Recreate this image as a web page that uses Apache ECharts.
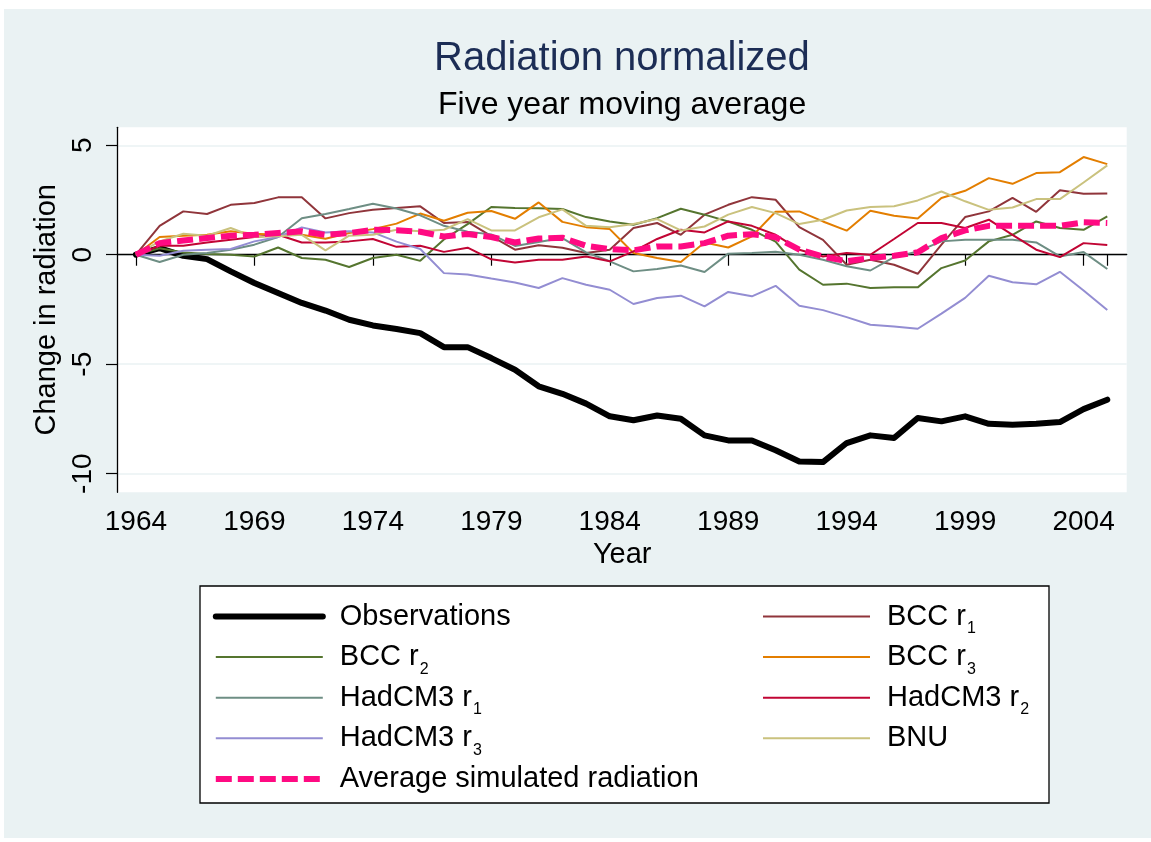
<!DOCTYPE html>
<html>
<head>
<meta charset="utf-8">
<title>Radiation normalized</title>
<script src="https://cdn.jsdelivr.net/npm/echarts@6/dist/echarts.min.js"></script>
<style>
  html, body { margin: 0; padding: 0; background: #fff; }
  #chart { width: 1151px; height: 842px; }
</style>
</head>
<body>
<div id="chart"></div>
<script>
const years = [1964, 1965, 1966, 1967, 1968, 1969, 1970, 1971, 1972, 1973, 1974, 1975, 1976, 1977,
  1978, 1979, 1980, 1981, 1982, 1983, 1984, 1985, 1986, 1987, 1988, 1989, 1990, 1991,
  1992, 1993, 1994, 1995, 1996, 1997, 1998, 1999, 2000, 2001, 2002, 2003, 2004, 2005];

const observations = [0, 0.3, -0.05, -0.2, -0.76, -1.29, -1.75, -2.2, -2.55, -2.97, -3.23, -3.39, -3.58, -4.22,
  -4.22, -4.72, -5.25, -6.01, -6.35, -6.8, -7.38, -7.56, -7.34, -7.49, -8.25, -8.48, -8.48, -8.93,
  -9.44, -9.47, -8.6, -8.25, -8.37, -7.46, -7.61, -7.38, -7.72, -7.76, -7.72, -7.64, -7.05, -6.62];
const bccR1 = [0, 1.32, 1.98, 1.86, 2.28, 2.36, 2.62, 2.62, 1.66, 1.9, 2.05, 2.13, 2.21, 1.45,
  1.5, 0.85, 0.23, 0.43, 0.32, 0.08, 0.23, 1.22, 1.45, 0.91, 1.83, 2.28, 2.63, 2.51,
  1.26, 0.68, -0.46, -0.23, -0.46, -0.87, 0.46, 1.72, 1.98, 2.6, 1.96, 2.94, 2.79, 2.8];
const bccR2 = [0, 0.3, 0.1, 0.03, 0, -0.08, 0.33, -0.15, -0.23, -0.56, -0.15, 0, -0.28, 0.7,
  1.4, 2.18, 2.13, 2.12, 2.09, 1.72, 1.52, 1.37, 1.67, 2.1, 1.83, 1.52, 1.14, 0.6,
  -0.68, -1.37, -1.32, -1.52, -1.48, -1.49, -0.61, -0.26, 0.61, 0.91, 1.52, 1.22, 1.14, 1.75];
const bccR3 = [0, 0.81, 0.87, 0.91, 1.07, 0.96, 0.91, 0.91, 0.73, 0.99, 1.17, 1.42, 1.88, 1.55,
  1.92, 2.0, 1.64, 2.39, 1.5, 1.26, 1.17, 0.08, -0.15, -0.33, 0.56, 0.33, 0.84, 1.96,
  1.98, 1.52, 1.1, 2.01, 1.78, 1.66, 2.59, 2.92, 3.5, 3.24, 3.73, 3.77, 4.46, 4.14];
const hadR1 = [0, -0.33, 0, 0.08, 0.23, 0.46, 0.81, 1.67, 1.86, 2.09, 2.33, 2.11, 1.8, 1.32,
  1.05, 0.93, 0.4, 0.58, 0.76, 0.11, -0.3, -0.76, -0.65, -0.49, -0.79, 0.05, 0.08, 0.14,
  0, -0.23, -0.53, -0.72, -0.11, 0.15, 0.61, 0.68, 0.68, 0.68, 0.56, -0.08, 0.12, -0.65];
const hadR2 = [0, 0.41, 0.41, 0.56, 0.68, 0.81, 0.91, 0.56, 0.56, 0.61, 0.72, 0.36, 0.41, 0.13,
  0.32, -0.21, -0.35, -0.23, -0.23, -0.08, -0.3, 0.15, 0.72, 1.14, 1.02, 1.52, 1.32, 0.91,
  0.23, -0.08, 0.08, 0, 0.72, 1.45, 1.45, 1.22, 1.6, 0.91, 0.23, -0.11, 0.53, 0.44];
const hadR3 = [0, -0.05, 0.18, 0.23, 0.26, 0.61, 0.81, 1.25, 1.02, 1.07, 1.02, 0.6, 0.26, -0.84,
  -0.9, -1.09, -1.27, -1.52, -1.07, -1.37, -1.6, -2.25, -1.98, -1.87, -2.36, -1.7, -1.9, -1.42,
  -2.33, -2.53, -2.85, -3.2, -3.28, -3.38, -2.69, -1.97, -0.96, -1.26, -1.35, -0.78, -1.63, -2.52];
const bnu = [0, 0.61, 0.96, 0.87, 1.22, 0.81, 0.84, 0.91, 0.2, 0.87, 0.91, 1.14, 1.07, 1.14,
  1.63, 1.11, 1.11, 1.71, 2.07, 1.32, 1.26, 1.4, 1.63, 1.11, 1.29, 1.83, 2.18, 1.9,
  1.4, 1.6, 2.02, 2.18, 2.21, 2.48, 2.89, 2.44, 2.05, 2.16, 2.54, 2.54, 3.3, 4.08];
const average = [0, 0.53, 0.65, 0.76, 0.87, 0.91, 0.99, 1.07, 0.91, 0.99, 1.14, 1.12, 1.05, 0.83,
  0.95, 0.81, 0.56, 0.74, 0.78, 0.41, 0.26, 0.2, 0.38, 0.38, 0.53, 0.87, 0.94, 0.8,
  0.23, -0.08, -0.3, -0.15, -0.05, 0.11, 0.76, 1.11, 1.32, 1.32, 1.32, 1.32, 1.48, 1.45];

const xLabels = [1964, 1969, 1974, 1979, 1984, 1989, 1994, 1999, 2004];
const xTicks = [1964, 1969, 1974, 1979, 1984, 1989, 1994, 1999, 2004, 2005];
const yTicks = [-10, -5, 0, 5];

const leftLegend = ['Observations', 'BCC r2', 'HadCM3 r1', 'HadCM3 r3', 'Average simulated radiation'];
const rightLegend = ['BCC r1', 'BCC r3', 'HadCM3 r2', 'BNU'];

const FONT = "'Liberation Sans', Arial, Helvetica, sans-serif";
const BG = '#eaf2f3';

function pairs(vals) {
  return years.map((y, i) => [y, vals[i]]);
}

function thin(name, vals, color) {
  return {
    name, type: 'line', data: pairs(vals), symbol: 'none',
    lineStyle: { color, width: 2 }, itemStyle: { color }
  };
}

const series = [
  {
    name: 'Observations', type: 'line', data: pairs(observations), symbol: 'none',
    lineStyle: { color: '#000', width: 6, cap: 'round', join: 'round' }, itemStyle: { color: '#000' }
  },
  thin('BCC r1', bccR1, '#90353b'),
  thin('BCC r2', bccR2, '#55752f'),
  thin('BCC r3', bccR3, '#e37e00'),
  thin('HadCM3 r1', hadR1, '#6e8e84'),
  thin('HadCM3 r2', hadR2, '#c10534'),
  thin('HadCM3 r3', hadR3, '#938dd2'),
  thin('BNU', bnu, '#cac27e'),
  {
    name: 'Average simulated radiation', type: 'line', data: pairs(average), symbol: 'none',
    lineStyle: { color: '#ff0a82', width: 6, type: [16, 6] }, itemStyle: { color: '#ff0a82' }
  }
];

// legend rows: 40.6 px pitch, subscripts sit at the bottom of the 40 px line
function legendAt(left, names) {
  return {
    data: names, orient: 'vertical', left, top: 596.5, padding: 0,
    itemWidth: 107, itemHeight: 2, itemGap: 0.6,
    itemStyle: { opacity: 0 },
    lineStyle: { width: 'inherit' },
    selectedMode: false,
    formatter: n => n.replace(/ r(\d)$/, ' r{sub|$1}'),
    textStyle: {
      fontFamily: FONT, fontSize: 29, color: '#000', lineHeight: 40, padding: [0, 0, 0, 12],
      rich: { sub: { fontFamily: FONT, fontSize: 16, lineHeight: 40, verticalAlign: 'bottom', padding: [0, 0, 0, 1] } }
    }
  };
}

const chart = echarts.init(document.getElementById('chart'), null, { renderer: 'canvas' });
chart.setOption({
  animation: false,
  backgroundColor: '#fff',
  graphic: [
    { type: 'rect', z: -10, shape: { x: 4, y: 9, width: 1147, height: 829 }, style: { fill: BG } },
    { type: 'rect', z: -5, shape: { x: 200, y: 586, width: 849, height: 217 },
      style: { fill: '#fff', stroke: '#000', lineWidth: 1.3 } }
  ],
  title: [
    { text: 'Radiation normalized', left: 434, top: 39, padding: 0,
      textStyle: { fontFamily: FONT, fontSize: 40, fontWeight: 'normal', color: '#1c2d55' } },
    { text: 'Five year moving average', left: 438, top: 89, padding: 0,
      textStyle: { fontFamily: FONT, fontSize: 32, fontWeight: 'normal', color: '#000' } }
  ],
  grid: {
    left: 117.7, top: 127.3, width: 1009, height: 365,
    show: true, backgroundColor: '#fff', borderWidth: 0, containLabel: false
  },
  xAxis: {
    type: 'value', min: 1963.23, max: 2005.82,
    name: 'Year', nameLocation: 'middle', nameGap: 48,
    nameTextStyle: { fontFamily: FONT, fontSize: 29, color: '#000' },
    axisLine: { lineStyle: { color: '#000', width: 1.3 } },
    axisTick: { customValues: xTicks, length: 11, lineStyle: { color: '#000', width: 1.2 } },
    axisLabel: {
      customValues: xLabels, margin: 16, fontFamily: FONT, fontSize: 28, color: '#000',
      formatter: v => String(v)
    },
    splitLine: { show: false }
  },
  yAxis: {
    type: 'value', min: -10.85, max: 5.82,
    name: 'Change in radiation', nameLocation: 'middle', nameGap: 45, nameRotate: 90,
    nameTextStyle: { fontFamily: FONT, fontSize: 29, color: '#000' },
    axisLine: { show: true, lineStyle: { color: '#000', width: 1.3 } },
    axisTick: { show: true, customValues: yTicks, length: 11.7, lineStyle: { color: '#000', width: 1.2 } },
    axisLabel: { customValues: yTicks, rotate: 90, margin: 20, fontFamily: FONT, fontSize: 28, color: '#000' },
    splitLine: { show: true, lineStyle: { color: BG, width: 1.6 } }
  },
  legend: [legendAt(212.8, leftLegend), legendAt(762, rightLegend)],
  series
});
</script>
</body>
</html>
